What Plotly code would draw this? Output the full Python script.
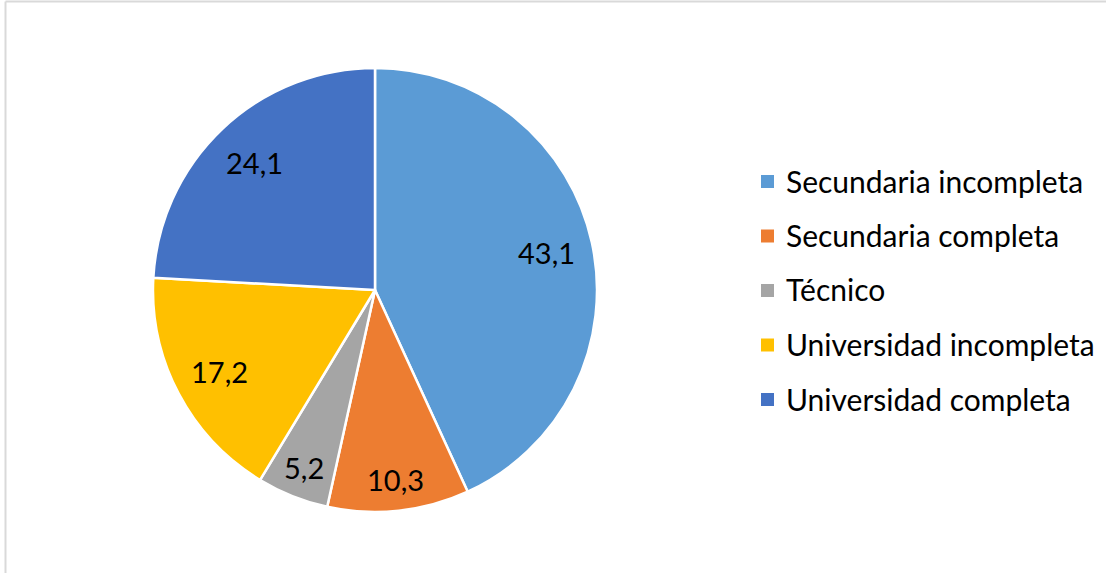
import math
import plotly.graph_objects as go

# Nivel educativo (%)
labels = ["Secundaria incompleta", "Secundaria completa", "Técnico",
          "Universidad incompleta", "Universidad completa"]
values = [43.1, 10.3, 5.2, 17.2, 24.1]
colors = ["#5B9BD5", "#ED7D31", "#A5A5A5", "#FFC000", "#4472C4"]

W, H = 1106, 573
FONT = "Lato"

# pie geometry (pixels)
cx, cy, R = 375, 290, 222
dom_x = [(cx - R) / W, (cx + R) / W]
dom_y = [(H - cy - R) / H, (H - cy + R) / H]

fig = go.Figure(go.Pie(
    labels=labels,
    values=values,
    sort=False,
    direction="clockwise",
    rotation=0,
    marker=dict(colors=colors, line=dict(color="white", width=2.5)),
    textinfo="none",
    hoverinfo="label+value",
    showlegend=False,
    domain=dict(x=dom_x, y=dom_y),
))

annotations = []
shapes = []

# value labels placed along each slice's bisector; narrow slices get
# their label pushed further toward the rim
total = sum(values)
cum = 0.0
for v in values:
    mid = (cum + v / 2) / total * 2 * math.pi
    cum += v
    r = (0.86 if v < 15 else 0.79) * R
    px = cx + r * math.sin(mid)
    py = cy - r * math.cos(mid)
    annotations.append(dict(
        x=px / W, y=1 - py / H, xref="paper", yref="paper",
        text=f"{v:.1f}".replace(".", ","), showarrow=False,
        font=dict(family=FONT, size=29, color="#000000"),
        xanchor="center", yanchor="middle",
    ))

# legend
lx, ly0, dy, sq = 767.5, 181.5, 54.5, 13
for i, (lab, col) in enumerate(zip(labels, colors)):
    y = ly0 + i * dy
    shapes.append(dict(
        type="rect", xref="paper", yref="paper",
        x0=(lx - sq / 2) / W, x1=(lx + sq / 2) / W,
        y0=1 - (y + sq / 2) / H, y1=1 - (y - sq / 2) / H,
        fillcolor=col, line=dict(width=0),
    ))
    annotations.append(dict(
        x=784 / W, y=1 - (y - 1) / H, xref="paper", yref="paper",
        text=lab, showarrow=False,
        font=dict(family=FONT, size=30, color="#000000"),
        xanchor="left", yanchor="middle",
    ))

# chart area frame
shapes.append(dict(type="line", xref="paper", yref="paper",
                   x0=5.5 / W, x1=1.1, y0=1 - 1.5 / H, y1=1 - 1.5 / H,
                   line=dict(color="#D9D9D9", width=2)))
shapes.append(dict(type="line", xref="paper", yref="paper",
                   x0=5.5 / W, x1=5.5 / W, y0=1 - 1.5 / H, y1=-0.1,
                   line=dict(color="#D9D9D9", width=2)))

fig.update_layout(
    width=W, height=H,
    margin=dict(l=0, r=0, t=0, b=0),
    paper_bgcolor="white",
    plot_bgcolor="white",
    annotations=annotations,
    shapes=shapes,
)

fig.write_html("out.html")
